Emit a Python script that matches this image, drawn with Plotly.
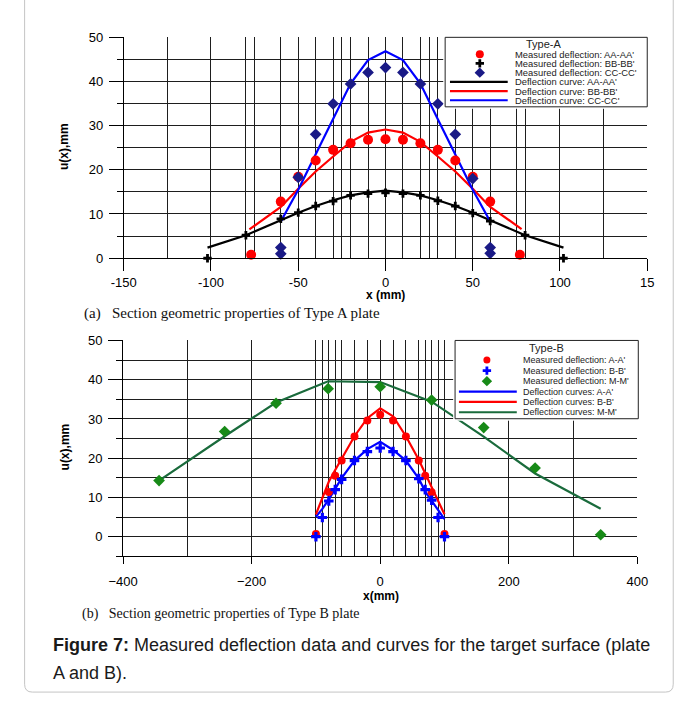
import plotly.graph_objects as go

W, H = 690, 704
FONT = "Liberation Sans, Arial, sans-serif"
SERIF = "Liberation Serif, Times New Roman, serif"

# ---------------- Type A plate (mm) ----------------
a_meas_aa_x = [-77, -60, -50, -40, -30, -20, -10, 0, 10, 20, 30, 40, 50, 60, 77]
a_meas_aa_y = [0.8, 12.8, 18.4, 22.1, 24.5, 26.0, 26.8, 26.9, 26.8, 26.0, 24.5, 22.1, 18.4, 12.8, 0.8]

a_meas_bb_x = [-102, -80, -60, -50, -40, -30, -20, -10, 0, 10, 20, 30, 40, 50, 60, 80, 102]
a_meas_bb_y = [0.0, 5.2, 8.9, 10.3, 11.8, 12.9, 14.2, 14.6, 14.8, 14.6, 14.2, 13.0, 11.8, 10.2, 8.4, 5.2, 0.0]

a_meas_cc_x = [-60, -60, -50, -40, -30, -20, -10, 0, 10, 20, 30, 40, 50, 60, 60]
a_meas_cc_y = [2.4, 1.0, 18.3, 28.0, 34.9, 39.4, 42.0, 43.1, 42.0, 39.4, 34.9, 28.0, 18.0, 2.4, 1.1]

a_curve_aa_x = [-102, -80, -60, -50, -40, -30, -20, -10, 0, 10, 20, 30, 40, 50, 60, 80, 102]
a_curve_aa_y = [2.4, 5.2, 8.6, 10.3, 11.8, 13.1, 14.2, 14.9, 15.3, 14.9, 14.2, 13.1, 11.8, 10.3, 8.6, 5.2, 2.4]

a_curve_bb_x = [-78, -60, -50, -40, -30, -20, -10, 0, 10, 20, 30, 40, 50, 60, 78]
a_curve_bb_y = [6.5, 11.6, 15.7, 19.6, 23.0, 26.3, 28.4, 29.1, 28.4, 26.3, 23.0, 19.6, 15.7, 11.6, 6.6]

a_curve_cc_x = [-60, -50, -40, -30, -20, -10, 0, 10, 20, 30, 40, 50, 60]
a_curve_cc_y = [8.3, 15.5, 23.5, 31.4, 39.5, 44.8, 46.8, 44.8, 39.5, 31.4, 23.5, 15.5, 8.3]

a_x_ticks = [-150, -100, -50, 0, 50, 100, 150]
a_x_ticktext = ["-150", "-100", "-50", "0", "50", "100", "15"]
a_x_extra_grid = [-125, -80, -75, -60, -40, -30, -25, -20, -10,
                  10, 20, 25, 30, 40, 60, 75, 80, 125]

# ---------------- Type B plate (mm) ----------------
b_meas_a_x = [-100, -80, -70, -60, -40, -20, 0, 20, 40, 60, 70, 80, 100]
b_meas_a_y = [0.7, 11.4, 15.5, 19.4, 25.5, 29.6, 31.1, 29.6, 25.5, 19.4, 15.5, 11.3, 0.7]

b_meas_b_x = [-100, -90, -80, -70, -60, -40, -20, 0, 20, 40, 60, 70, 80, 90, 100]
b_meas_b_y = [0.0, 4.9, 9.1, 12.0, 14.6, 19.4, 21.7, 22.6, 21.7, 19.4, 14.8, 12.0, 9.3, 4.9, 0.0]

b_meas_m_x = [-344, -242, -162, -81, 0, 80, 161, 241, 343]
b_meas_m_y = [14.3, 26.8, 34.0, 37.7, 38.2, 34.8, 27.8, 17.5, 0.5]

b_curve_a_x = [-100, -90, -80, -70, -60, -40, -20, 0, 20, 40, 60, 70, 80, 90, 100]
b_curve_a_y = [5.1, 7.1, 9.5, 12.1, 14.9, 19.4, 22.3, 24.2, 22.1, 19.4, 14.8, 11.5, 9.1, 6.6, 4.5]

b_curve_b_x = [-100, -90, -80, -70, -60, -40, -20, 0, 20, 40, 60, 70, 80, 90, 100]
b_curve_b_y = [5.7, 9.9, 14.0, 17.0, 19.9, 25.6, 30.2, 32.7, 30.7, 25.6, 19.6, 16.1, 12.8, 9.1, 5.7]

b_curve_m_x = [-344, -242, -162, -81, 0, 80, 161, 241, 343]
b_curve_m_y = [14.3, 25.6, 34.2, 39.6, 39.4, 34.4, 25.5, 16.1, 7.1]

b_x_ticks = [-400, -200, 0, 200, 400]
b_x_extra_grid = [-300, -100, -90, -80, -70, -60, -40, -20,
                  20, 40, 60, 70, 80, 90, 100, 300]

RED, BLACK, NAVY, BLUE = "#ff0000", "#000000", "#1a1a86", "#0000ff"
GREEN_PT, GREEN_LN = "#178a17", "#1a6b3c"
GRID = "#1e1e1e"


def fx(p):
    """pixel column -> paper fraction"""
    return p / W


def fy(p):
    """pixel row -> paper fraction"""
    return 1 - p / H


fig = go.Figure()

# ---- Type A traces ----
for x, y, c in [(a_curve_aa_x, a_curve_aa_y, BLACK),
                (a_curve_bb_x, a_curve_bb_y, RED),
                (a_curve_cc_x, a_curve_cc_y, BLUE)]:
    fig.add_trace(go.Scatter(x=x, y=y, mode="lines", line=dict(color=c, width=2.2),
                             xaxis="x", yaxis="y", showlegend=False))
fig.add_trace(go.Scatter(x=a_meas_aa_x, y=a_meas_aa_y, mode="markers", cliponaxis=False,
                         marker=dict(symbol="circle", size=10, color=RED),
                         xaxis="x", yaxis="y", showlegend=False))
fig.add_trace(go.Scatter(x=a_meas_bb_x, y=a_meas_bb_y, mode="markers", cliponaxis=False,
                         marker=dict(symbol="cross", size=7, color=BLACK),
                         xaxis="x", yaxis="y", showlegend=False))
fig.add_trace(go.Scatter(x=a_meas_cc_x, y=a_meas_cc_y, mode="markers", cliponaxis=False,
                         marker=dict(symbol="diamond", size=9, color=NAVY),
                         xaxis="x", yaxis="y", showlegend=False))

# ---- Type B traces ----
for x, y, c in [(b_curve_m_x, b_curve_m_y, GREEN_LN),
                (b_curve_a_x, b_curve_a_y, BLUE),
                (b_curve_b_x, b_curve_b_y, RED)]:
    fig.add_trace(go.Scatter(x=x, y=y, mode="lines", line=dict(color=c, width=2.2),
                             xaxis="x2", yaxis="y2", showlegend=False))
fig.add_trace(go.Scatter(x=b_meas_a_x, y=b_meas_a_y, mode="markers", cliponaxis=False,
                         marker=dict(symbol="circle", size=8, color=RED),
                         xaxis="x2", yaxis="y2", showlegend=False))
fig.add_trace(go.Scatter(x=b_meas_b_x, y=b_meas_b_y, mode="markers", cliponaxis=False,
                         marker=dict(symbol="cross", size=8, color=BLUE),
                         xaxis="x2", yaxis="y2", showlegend=False))
fig.add_trace(go.Scatter(x=b_meas_m_x, y=b_meas_m_y, mode="markers", cliponaxis=False,
                         marker=dict(symbol="diamond", size=9, color=GREEN_PT),
                         xaxis="x2", yaxis="y2", showlegend=False))


# ---- hand-built legend boxes drawn in their own small subplots ----
def legend_box(xa, ya, w, h, title, title_x, rows, row_y, mark_x, line_x0, line_x1,
               text_x, fsize):
    fig.add_trace(go.Scatter(x=[0, w, w, 0, 0], y=[0, 0, h, h, 0], mode="lines",
                             fill="toself", fillcolor="white",
                             line=dict(color="#222", width=1),
                             xaxis=xa, yaxis=ya, showlegend=False, hoverinfo="skip"))
    anns = [dict(x=title_x, y=row_y[0] - (row_y[1] - row_y[0]) - 1, xref=xa, yref=ya,
                 text=title, showarrow=False, xanchor="center", yanchor="middle",
                 font=dict(family=FONT, size=11, color="#222"))]
    for (label, kind, sym, col, msize), yy in zip(rows, row_y):
        if kind == "marker":
            fig.add_trace(go.Scatter(x=[mark_x], y=[yy], mode="markers",
                                     marker=dict(symbol=sym, size=msize, color=col),
                                     xaxis=xa, yaxis=ya, showlegend=False))
        else:
            fig.add_trace(go.Scatter(x=[line_x0, line_x1], y=[yy, yy], mode="lines",
                                     line=dict(color=col, width=2.2),
                                     xaxis=xa, yaxis=ya, showlegend=False))
        anns.append(dict(x=text_x, y=yy, xref=xa, yref=ya, text=label, showarrow=False,
                         xanchor="left", yanchor="middle",
                         font=dict(family=FONT, size=fsize, color="#222")))
    return anns


legA_rows = [
    ("Measured deflection: AA-AA'", "marker", "circle", RED, 8),
    ("Measured deflection: BB-BB'", "marker", "cross", BLACK, 7),
    ("Measured deflection: CC-CC'", "marker", "diamond", NAVY, 8),
    ("Deflection curve: AA-AA'", "line", None, BLACK, 0),
    ("Deflection curve: BB-BB'", "line", None, RED, 0),
    ("Deflection curve: CC-CC'", "line", None, BLUE, 0),
]
legB_rows = [
    ("Measured deflection: A-A'", "marker", "circle", RED, 7),
    ("Measured deflection: B-B'", "marker", "cross", BLUE, 7),
    ("Measured deflection: M-M'", "marker", "diamond", GREEN_PT, 8),
    ("Deflection curves: A-A'", "line", None, BLUE, 0),
    ("Deflection curves: B-B'", "line", None, RED, 0),
    ("Deflection curves: M-M'", "line", None, GREEN_LN, 0),
]

annotations = []
annotations += legend_box("x3", "y3", 210, 71, "Type-A", 103,
                          legA_rows, [17.3, 26.6, 36.1, 45.6, 55.0, 64.3],
                          36, 5, 65, 71, 9.4)
annotations += legend_box("x4", "y4", 190, 80, "Type-B", 95,
                          legB_rows, [20.0, 30.8, 41.6, 52.2, 62.8, 73.4],
                          33, 4, 64, 68, 9)


def label(px, py, text, family=FONT, size=12, xanchor="center", angle=0, color="black"):
    return dict(x=fx(px), y=fy(py), xref="paper", yref="paper", text=text,
                showarrow=False, xanchor=xanchor, yanchor="middle", textangle=angle,
                font=dict(family=family, size=size, color=color))


# ---- axis titles and captions ----
annotations += [
    label(385, 294, "<b>x (mm)</b>"),
    label(51, 143, "<b>u(x),mm</b>", angle=-90),
    label(380, 602, "<b>x(mm)</b>"),
    label(52, 450, "<b>u(x),mm</b>", angle=-90),
    label(70, 313, "(a)\u00a0\u00a0\u00a0Section geometric properties of Type A plate",
          family=SERIF, size=15, xanchor="left", color="#111"),
    label(68, 620, "(b)\u00a0\u00a0\u00a0Section geometric properties of Type B plate",
          family=SERIF, size=14, xanchor="left", color="#111"),
    label(37, 652, "<b>Figure 7:</b> Measured deflection data and curves for the "
                   "target surface (plate", size=18, xanchor="left", color="#1a1a1a"),
    label(37, 681, "A and B).", size=18, xanchor="left", color="#1a1a1a"),
]

# rounded page frame (open at the top)
x0, x1, yb = fx(10), fx(684), fy(700)
rx, ry = 8 / W, 8 / H
frame = (f"M {x0},1.02 L {x0},{yb + ry} Q {x0},{yb} {x0 + rx},{yb} "
         f"L {x1 - rx},{yb} Q {x1},{yb} {x1},{yb + ry} L {x1},1.02")

tickfont = dict(family=FONT, size=13, color="black")
common_x = dict(showline=True, linecolor="black", linewidth=1, zeroline=False,
                ticks="outside", tickcolor="black", tickwidth=1, tickfont=tickfont,
                showgrid=True, gridcolor=GRID, gridwidth=1, fixedrange=True)
common_y = dict(showline=True, linecolor="black", linewidth=1, zeroline=False,
                ticks="outside", tickcolor="black", tickwidth=1, tickfont=tickfont,
                showgrid=True, gridcolor=GRID, gridwidth=1, fixedrange=True,
                tickmode="linear", tick0=0, dtick=10, ticklen=14, ticklabelstandoff=3,
                minor=dict(tick0=0, dtick=5, ticks="outside", ticklen=6, tickcolor="black",
                           showgrid=True, gridcolor=GRID, gridwidth=1))
hidden = dict(visible=False, fixedrange=True)

fig.update_layout(
    width=W, height=H, autosize=False,
    margin=dict(l=0, r=0, t=0, b=0),
    paper_bgcolor="white", plot_bgcolor="white",
    showlegend=False,
    xaxis=dict(domain=[fx(113), fx(657)], range=[-150, 150], anchor="y",
               tickmode="array", tickvals=a_x_ticks, ticktext=a_x_ticktext, ticklen=12,
               minor=dict(tickmode="array", tickvals=a_x_extra_grid, ticks="",
                          showgrid=True, gridcolor=GRID, gridwidth=1),
               **common_x),
    yaxis=dict(domain=[fy(256.7), fy(30.7)], range=[0, 50], anchor="x", **common_y),
    xaxis2=dict(domain=[fx(112.3), fx(646.7)], range=[-400, 400], anchor="y2",
                tickmode="array", tickvals=b_x_ticks, ticklen=7, ticklabelstandoff=6,
                minor=dict(tickmode="array", tickvals=b_x_extra_grid, ticks="",
                           showgrid=True, gridcolor=GRID, gridwidth=1),
                **common_x),
    yaxis2=dict(domain=[fy(561.3), fy(340.7)], range=[-5, 50], anchor="x2", **common_y),
    xaxis3=dict(domain=[fx(445), fx(659)], range=[-2, 212], anchor="y3", **hidden),
    yaxis3=dict(domain=[fy(104), fy(29)], range=[73, -2], anchor="x3", **hidden),
    xaxis4=dict(domain=[fx(455.3), fx(649.7)], range=[-2, 192], anchor="y4", **hidden),
    yaxis4=dict(domain=[fy(422.7), fy(338.7)], range=[82, -2], anchor="x4", **hidden),
    annotations=annotations,
    shapes=[dict(type="path", path=frame, xref="paper", yref="paper",
                 line=dict(color="#c4c4c4", width=1), fillcolor="rgba(0,0,0,0)")],
)

fig.write_html("out.html")
